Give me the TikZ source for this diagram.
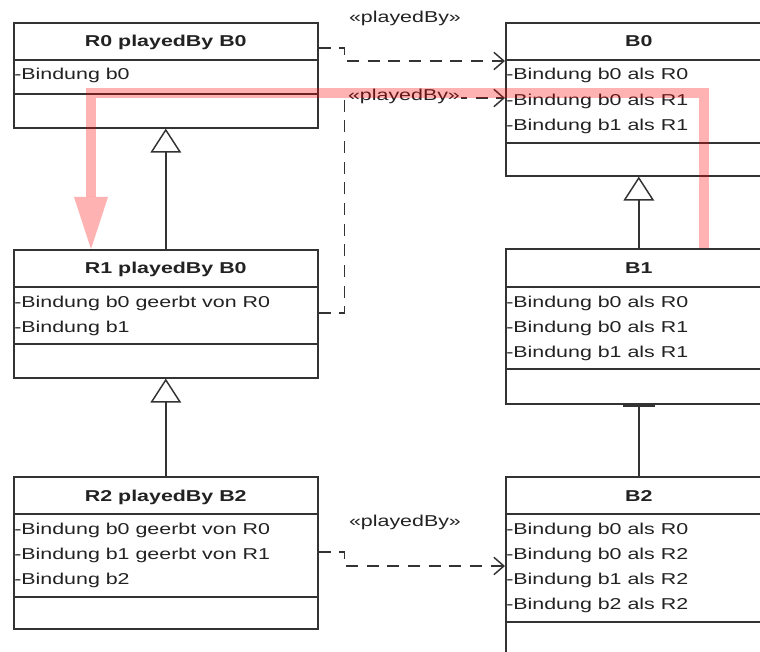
\documentclass[tikz,border=0pt]{standalone}
\usepackage{fontspec}
\newfontfamily\umlfont{Liberation Sans}[FakeStretch=1.36]
\usetikzlibrary{arrows.meta,calc}

\definecolor{linegray}{HTML}{333333}
\definecolor{textgray}{HTML}{222222}

\tikzset{
  umltext/.style={font=\umlfont\fontsize{11.8}{14}\selectfont, text=textgray},
  classbox/.style={draw=linegray, line width=1.2pt, fill=white, inner sep=0pt},
  sepline/.style={draw=linegray, line width=1.2pt},
  classtitle/.style={umltext, font=\umlfont\fontsize{11.8}{14}\selectfont\bfseries, inner sep=0pt, anchor=base},
  attr/.style={umltext, inner sep=0pt, anchor=base west},
  stereo/.style={umltext, inner sep=1pt},
  playedby/.style={draw=linegray, line width=1.1pt, dash pattern=on 9pt off 6.5pt,
    -{Straight Barb[length=7.5pt,width=13pt]}},
  generalization/.style={draw=linegray, line width=1.1pt,
    -{Triangle[length=18pt,width=23pt,fill=white]}},
  barlink/.style={draw=linegray, line width=1.1pt, -{Bar[width=24pt,line width=1.6pt]}},
  highlight/.style={draw=red, opacity=0.3, line width=7.5pt,
    -{Triangle[length=39pt,width=25.5pt,line width=0pt]}},
}

% #1 name, #2 top-left corner, #3 width, #4 height,
% #5 header height, #6 attribute compartment height, #7 title, #8 attributes
\newcommand\umlclass[8]{%
  \node[classbox, anchor=north west, minimum width=#3*0.75pt, minimum height=#4*0.75pt] (#1) at (#2) {};
  \draw[sepline] ($(#1.north west)+(0,#5)$) -- ($(#1.north east)+(0,#5)$);
  \draw[sepline] ($(#1.north west)+(0,#5+#6)$) -- ($(#1.north east)+(0,#5+#6)$);
  \node[classtitle] (#1-title) at ($(#1.north)+(0,25)$) {#7};
  \foreach \a [count=\i from 0] in {#8}
    \node[attr] (#1-a\i) at ($(#1.north west)+(1,#5+20+25.2*\i)$) {\a};
}

\begin{document}
\begin{tikzpicture}[x=0.75pt, y=-0.75pt]
  \useasboundingbox (0,0) rectangle (760,652);
  \fill[white] (0,0) rectangle (760,652);
  \clip (0,0) rectangle (760,652);

  % role classes
  \umlclass{R0}{13,22}{304}{105}{38}{34}{R0 playedBy B0}{-Bindung b0}
  \umlclass{R1}{13,249}{304}{128}{38}{57}{R1 playedBy B0}{-Bindung b0 geerbt von R0,-Bindung b1}
  \umlclass{R2}{13,476}{304}{152}{38}{83}{R2 playedBy B2}{-Bindung b0 geerbt von R0,-Bindung b1 geerbt von R1,-Bindung b2}

  % base classes
  \umlclass{B0}{505,22}{266}{153}{38}{83}{B0}{-Bindung b0 als R0,-Bindung b0 als R1,-Bindung b1 als R1}
  \umlclass{B1}{505,248}{266}{155}{39}{82}{B1}{-Bindung b0 als R0,-Bindung b0 als R1,-Bindung b1 als R1}
  \umlclass{B2}{505,476}{266}{220}{38}{108}{B2}{-Bindung b0 als R0,-Bindung b0 als R2,-Bindung b1 als R2,-Bindung b2 als R2}

  % inheritance
  \draw[generalization] (R1.north) -- (R0.south);
  \draw[generalization] (R2.north) -- (R1.south);
  \draw[generalization] (B1.north) -- (B0.south);
  \draw[barlink] (B2.north) -- (B1.south);

  % playedBy dependencies
  \draw[playedby] ($(R0.north east)+(0,26)$) -- ++(26,0) |- ($(B0.north west)+(0,39)$);
  \draw[playedby] ($(R1.north east)+(0,64)$) -- ++(26,0) |- ($(B0.north west)+(0,76)$);
  \draw[playedby] ($(R2.north east)+(0,76)$) -- ++(26,0) |- ($(B2.north west)+(0,90)$);

  \node[stereo] (pb0) at (405,18) {«playedBy»};
  \node[stereo, fill=white] (pb1) at (404,96) {«playedBy»};
  \node[stereo] (pb2) at (405,522) {«playedBy»};

  % highlighted lookup path
  \draw[highlight] ($(B1.north west)+(199,0)$) -- ++(0,-155) -| ($(R1.north west)+(78,0)$);
\end{tikzpicture}
\end{document}
